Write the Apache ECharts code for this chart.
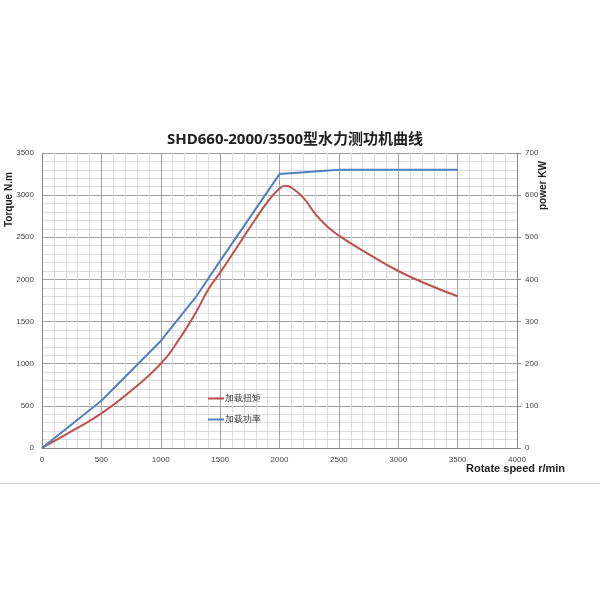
<!DOCTYPE html><html><head><meta charset="utf-8"><script src="https://cdn.jsdelivr.net/npm/echarts@6/dist/echarts.min.js"></script></head><body style="margin:0"><div id="c" style="width:600px;height:600px"></div><script>
const torqueData=[[0,0],[250,200],[500,410],[750,680],[1000,1000],[1150,1280],[1300,1620],[1400,1880],[1500,2080],[1650,2400],[1800,2720],[1900,2920],[2000,3080],[2050,3110],[2100,3090],[2200,2970],[2300,2780],[2400,2630],[2500,2520],[2750,2300],[3000,2100],[3250,1940],[3500,1800]];
const powerData=[[0,0],[500,112],[1000,254],[1300,360],[1500,444],[2000,650],[2500,660],[3500,660]];
const names=['加载扭矩','加载功率'];
const ax={fontSize:8,color:'#444',formatter:v=>String(v)};
const split={show:true,lineStyle:{color:'#a0a0a0',width:1}};
const minor={show:true,lineStyle:{color:'#dcdcdc',width:1}};
const c=echarts.init(document.getElementById('c'));
c.setOption({
title:{text:'SHD660-2000/3500型水力测功机曲线',left:290,top:127,textAlign:'center',textStyle:{fontSize:15,fontWeight:'bold',color:'#222',fontFamily:'Open Sans, Noto Sans CJK SC'}},
grid:{left:42,right:83,top:153,bottom:152},
legend:{orient:'vertical',left:203,top:389,itemGap:12,itemWidth:16,itemHeight:2,icon:'rect',textStyle:{fontSize:9,color:'#333',padding:[0,0,0,-4]},data:names},
xAxis:{type:'value',min:0,max:4000,interval:500,axisLabel:ax,axisLine:{lineStyle:{color:'#888'}},axisTick:{show:false},splitLine:split,minorTick:{show:false,splitNumber:5},minorSplitLine:minor},
yAxis:[{type:'value',min:0,max:3500,interval:500,axisLabel:ax,axisLine:{show:true,lineStyle:{color:'#888'}},axisTick:{show:false},splitLine:split,minorTick:{show:false,splitNumber:5},minorSplitLine:minor},
{type:'value',min:0,max:700,interval:100,axisLabel:ax,axisLine:{show:true,lineStyle:{color:'#888'}},axisTick:{show:true,length:4},splitLine:{show:false}}],
graphic:[{type:'text',left:466,top:463,style:{text:'Rotate speed r/min',fontSize:11,fontWeight:'bold',fill:'#222'}},
{type:'text',x:4,y:227,rotation:Math.PI/2,style:{text:'Torque N.m',fontSize:10,fontWeight:'bold',fill:'#222'}},
{type:'text',x:538,y:210,rotation:Math.PI/2,style:{text:'power KW',fontSize:10,fontWeight:'bold',fill:'#222'}},
{type:'rect',shape:{x:0,y:483,width:600,height:1},style:{fill:'#ccc'}}],
series:[{name:names[0],type:'line',data:torqueData,smooth:0.5,showSymbol:false,lineStyle:{color:'#c0504d',width:2},itemStyle:{color:'#c0504d'}},
{name:names[1],type:'line',yAxisIndex:1,data:powerData,showSymbol:false,lineStyle:{color:'#4f81bd',width:2},itemStyle:{color:'#4f81bd'}}]
});
</script></body></html>
